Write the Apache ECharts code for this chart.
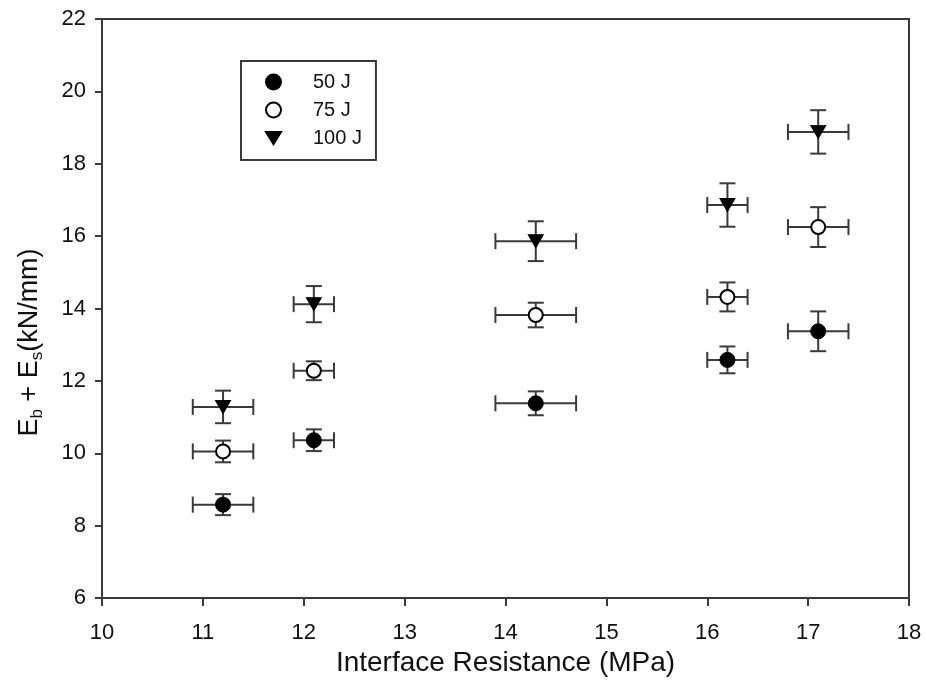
<!DOCTYPE html>
<html>
<head>
<meta charset="utf-8">
<script src="https://cdn.jsdelivr.net/npm/echarts@6/dist/echarts.min.js"></script>
<style>html,body{margin:0;padding:0;background:#fff}#c{width:925px;height:688px}</style>
</head>
<body>
<div id="c"></div>
<script>
// Data
const xValues = [11.2, 12.1, 14.3, 16.2, 17.1];
const xErr = [0.3, 0.2, 0.4, 0.2, 0.3];
const y50 = [8.58, 10.36, 11.38, 12.58, 13.37];
const y50Err = [0.29, 0.30, 0.33, 0.37, 0.55];
const y75 = [10.05, 12.28, 13.82, 14.32, 16.25];
const y75Err = [0.30, 0.26, 0.34, 0.40, 0.55];
const y100 = [11.28, 14.12, 15.86, 16.86, 18.88];
const y100Err = [0.45, 0.50, 0.55, 0.60, 0.60];
const seriesNames = ['50 J', '75 J', '100 J'];

const FONT = '"Liberation Sans", Arial, sans-serif';
const LINE = '#3a3a3a';
const DOWN_TRI = 'path://M0,0 L16,0 L8,13 Z';

function pts(ys) { return xValues.map((x, i) => [x, ys[i]]); }
function errData(ys, yErrs) { return xValues.map((x, i) => [x, ys[i], xErr[i], yErrs[i]]); }

function renderErr(params, api) {
  const x = api.value(0), y = api.value(1), ex = api.value(2), ey = api.value(3);
  const c = api.coord([x, y]);
  const l = api.coord([x - ex, y]);
  const r = api.coord([x + ex, y]);
  const t = api.coord([x, y + ey]);
  const b = api.coord([x, y - ey]);
  const cap = 8;
  const st = { stroke: LINE, lineWidth: 2, fill: null };
  const line = (x1, y1, x2, y2) => ({ type: 'line', shape: { x1, y1, x2, y2 }, style: st });
  return {
    type: 'group',
    children: [
      line(l[0], c[1], r[0], c[1]),
      line(c[0], t[1], c[0], b[1]),
      line(l[0], c[1] - cap, l[0], c[1] + cap),
      line(r[0], c[1] - cap, r[0], c[1] + cap),
      line(c[0] - cap, t[1], c[0] + cap, t[1]),
      line(c[0] - cap, b[1], c[0] + cap, b[1])
    ]
  };
}

function errSeries(ys, yErrs) {
  return {
    type: 'custom', renderItem: renderErr, data: errData(ys, yErrs),
    encode: { x: 0, y: 1 }, z: 1, silent: true, clip: false
  };
}

const chart = echarts.init(document.getElementById('c'), null, { renderer: 'canvas' });
chart.setOption({
  animation: false,
  backgroundColor: '#fff',
  textStyle: { fontFamily: FONT },
  grid: { left: 102, right: 16, top: 19, bottom: 90, show: true, borderColor: LINE, borderWidth: 2, backgroundColor: 'transparent' },
  legend: {
    data: [
      { name: seriesNames[0], icon: 'circle' },
      { name: seriesNames[1], icon: 'circle' },
      { name: seriesNames[2], icon: DOWN_TRI }
    ],
    orient: 'vertical',
    left: 241, top: 61,
    backgroundColor: '#fff',
    borderColor: LINE, borderWidth: 2,
    padding: [11, 14, 12, 24],
    itemWidth: 15, itemHeight: 15,
    itemGap: 8,
    textStyle: { fontFamily: FONT, fontSize: 20, color: '#111', padding: [0, 0, 0, 27], width: 60 }
  },
  xAxis: {
    type: 'value', min: 10, max: 18, interval: 1,
    name: 'Interface Resistance (MPa)', nameLocation: 'middle', nameGap: 50,
    nameTextStyle: { fontFamily: FONT, fontSize: 28, color: '#111' },
    axisLine: { show: true, onZero: false, lineStyle: { color: LINE, width: 2 } },
    axisTick: { show: true, inside: false, length: 8, lineStyle: { color: LINE, width: 2 } },
    axisLabel: { fontFamily: FONT, fontSize: 22, color: '#111', margin: 24 },
    splitLine: { show: false }
  },
  yAxis: {
    type: 'value', min: 6, max: 22, interval: 2,
    name: '{n|E}{s|b}{n| + E}{s|s}{n|(kN/mm)}', nameLocation: 'middle', nameGap: 56, nameRotate: 90,
    nameTextStyle: {
      fontFamily: FONT, color: '#111', padding: [0, 68, 0, 0],
      rich: {
        n: { fontFamily: FONT, fontSize: 27, color: '#111', lineHeight: 32, verticalAlign: 'middle' },
        s: { fontFamily: FONT, fontSize: 17, color: '#111', lineHeight: 32, verticalAlign: 'bottom', padding: [15, 0, 0, 0] }
      }
    },
    axisLine: { show: true, onZero: false, lineStyle: { color: LINE, width: 2 } },
    axisTick: { show: true, inside: false, length: 7, lineStyle: { color: LINE, width: 2 } },
    axisLabel: { fontFamily: FONT, fontSize: 22, color: '#111', margin: 16 },
    splitLine: { show: false }
  },
  series: [
    errSeries(y50, y50Err),
    errSeries(y75, y75Err),
    errSeries(y100, y100Err),
    { name: seriesNames[0], type: 'scatter', data: pts(y50), symbol: 'circle', symbolSize: 15, z: 3,
      itemStyle: { color: '#000', borderColor: '#000', borderWidth: 1, opacity: 1 } },
    { name: seriesNames[1], type: 'scatter', data: pts(y75), symbol: 'circle', symbolSize: 14, z: 3,
      itemStyle: { color: '#fff', borderColor: '#000', borderWidth: 2, opacity: 1 } },
    { name: seriesNames[2], type: 'scatter', data: pts(y100), symbol: 'triangle', symbolRotate: 180, symbolSize: [15, 13], z: 3,
      itemStyle: { color: '#000', borderColor: '#000', borderWidth: 1, opacity: 1 } }
  ]
});
</script>
</body>
</html>
